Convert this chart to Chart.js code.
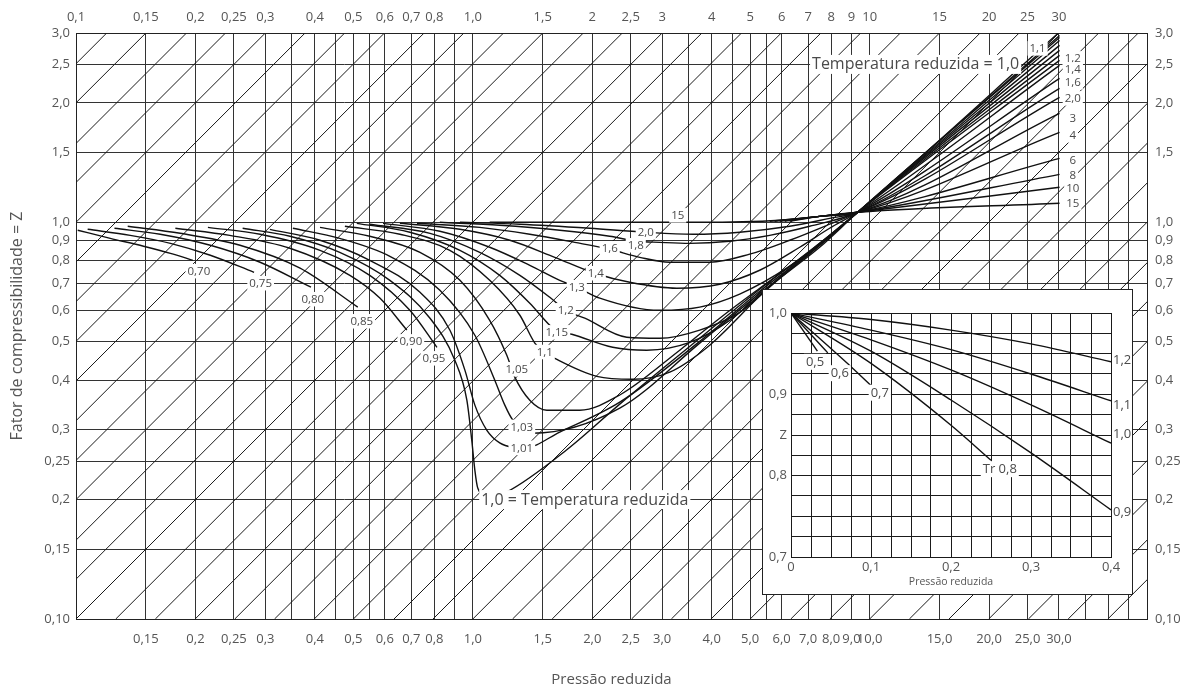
<!DOCTYPE html>
<html>
<head>
<meta charset="utf-8">
<script src="https://cdn.jsdelivr.net/npm/chart.js@4.4.1/dist/chart.umd.min.js"></script>
<style>
  html, body { margin: 0; padding: 0; background: #fff; }
  #wrap { position: relative; width: 1182px; height: 696px; }
  #mainChart { position: absolute; left: 0; top: 0; }
  #insetBox { position: absolute; left: 762px; top: 289px; width: 369px; height: 304px;
              border: 1px solid #222; background: #fff; }
  #insetChart { position: absolute; left: 0; top: 0; }
</style>
</head>
<body>
<div id="wrap">
  <canvas id="mainChart" width="1182" height="696"></canvas>
  <div id="insetBox"><canvas id="insetChart" width="369" height="304"></canvas></div>
</div>
<script>
Chart.defaults.font.family = '"Open Sans", "DejaVu Sans", sans-serif';
Chart.defaults.color = '#555';

// ---- grade principal (log x log) ----
const prGrid = [0.1, 0.15, 0.2, 0.25, 0.3, 0.35, 0.4, 0.45, 0.5, 0.55, 0.6, 0.7, 0.8, 0.9, 1.0,
  1.5, 2, 2.5, 3, 3.5, 4, 4.5, 5, 5.5, 6, 7, 8, 9, 10, 15, 20, 25, 30, 35, 40, 45, 50];
const topTicks = [0.1, 0.15, 0.2, 0.25, 0.3, 0.4, 0.5, 0.6, 0.7, 0.8, 1.0, 1.5, 2, 2.5, 3, 4, 5, 6, 7, 8, 9, 10, 15, 20, 25, 30];
const topTickLabels = ['0,1', '0,15', '0,2', '0,25', '0,3', '0,4', '0,5', '0,6', '0,7', '0,8', '1,0', '1,5', '2', '2,5', '3',
  '4', '5', '6', '7', '8', '9', '10', '15', '20', '25', '30'];
const bottomTicks = [0.15, 0.2, 0.25, 0.3, 0.4, 0.5, 0.6, 0.7, 0.8, 1.0, 1.5, 2, 2.5, 3, 4, 5, 6, 7, 8, 9, 10, 15, 20, 25, 30];
const bottomTickLabels = ['0,15', '0,2', '0,25', '0,3', '0,4', '0,5', '0,6', '0,7', '0,8', '1,0', '1,5', '2,0', '2,5', '3,0',
  '4,0', '5,0', '6,0', '7,0', '8,0', '9,0', '10,0', '15,0', '20,0', '25,0', '30,0'];
const zGrid = [0.1, 0.15, 0.2, 0.25, 0.3, 0.4, 0.5, 0.6, 0.7, 0.8, 0.9, 1.0, 1.5, 2.0, 2.5, 3.0];
const zTickLabels = ['0,10', '0,15', '0,2', '0,25', '0,3', '0,4', '0,5', '0,6', '0,7', '0,8', '0,9', '1,0', '1,5', '2,0', '2,5', '3,0'];

// retas diagonais Z/Pr = constante
const diagRatios = [25.1, 20.0, 15.8, 12.6, 10.0, 7.94, 6.31, 5.01, 3.98, 3.16, 2.51, 2.00, 1.58, 1.26, 1.00,
  0.794, 0.631, 0.501, 0.398, 0.316, 0.251, 0.200, 0.158, 0.126, 0.100, 0.0794, 0.0631, 0.0501, 0.0398,
  0.0316, 0.0251, 0.0200, 0.0158, 0.0126, 0.0100, 0.00794, 0.00631, 0.00501, 0.00398, 0.00316, 0.00251, 0.00200];

// curvas de temperatura reduzida: [Pr, Z]
const tr070 = [[0.101,0.955],[0.122,0.911],[0.148,0.870],[0.173,0.835],[0.197,0.802]];
const tr075 = [[0.107,0.960],[0.137,0.927],[0.173,0.885],[0.218,0.826],[0.281,0.748]];
const tr080 = [[0.125,0.966],[0.163,0.933],[0.218,0.875],[0.291,0.793],[0.391,0.686]];
const tr085 = [[0.135,0.977],[0.183,0.938],[0.259,0.875],[0.367,0.766],[0.513,0.611]];
const tr090 = [[0.178,0.966],[0.244,0.927],[0.346,0.860],[0.490,0.735],[0.583,0.644],[0.682,0.535]];
const tr095 = [[0.215,0.971],[0.291,0.933],[0.412,0.850],[0.550,0.735],[0.694,0.600],[0.812,0.484]];
const tr100 = [[0.263,0.966],[0.346,0.922],[0.462,0.840],[0.618,0.714],[0.780,0.573],[0.901,0.449],[0.966,0.356],
  [0.994,0.282],[1.012,0.237],[1.029,0.214],[1.100,0.202],[1.218,0.209],[1.725,0.267],[2.346,0.348],[3.731,0.510],
  [5.284,0.678],[7.482,0.885],[9.33,1.06],[29.8,2.99]];
const tr101 = [[0.308,0.960],[0.412,0.901],[0.550,0.802],[0.736,0.666],[0.875,0.535],[0.955,0.424],[1.012,0.346],
  [1.085,0.299],[1.169,0.278],[1.262,0.271],[1.352,0.270],[1.656,0.296],[2.346,0.352],[3.731,0.501],[5.284,0.670],
  [7.482,0.875],[9.33,1.06],[30.1,2.958]];
const tr103 = [[0.352,0.966],[0.462,0.911],[0.618,0.821],[0.826,0.674],[1.012,0.519],[1.136,0.400],[1.204,0.346],
  [1.262,0.317],[1.352,0.303],[1.417,0.294],[2.346,0.340],[3.731,0.496],[5.284,0.662],[7.482,0.865],[9.33,1.06],[30.1,2.924]];
const tr105 = [[0.412,0.971],[0.550,0.922],[0.736,0.840],[0.928,0.714],[1.103,0.566],[1.218,0.462],[1.276,0.407],
  [1.392,0.356],[1.536,0.336],[1.860,0.336],[2.346,0.367],[3.322,0.476],[4.190,0.573],[5.284,0.682],[7.482,0.880],
  [9.33,1.06],[30.1,2.873]];
const tr110 = [[0.476,0.977],[0.655,0.933],[0.875,0.850],[1.103,0.714],[1.314,0.583],[1.433,0.496],[1.510,0.471],
  [1.609,0.454],[2.053,0.409],[2.529,0.402],[3.135,0.419],[3.954,0.490],[5.376,0.662],[7.482,0.875],[9.33,1.06],[30.1,2.792]];
const tr115 = [[0.510,0.994],[0.694,0.944],[0.928,0.850],[1.169,0.735],[1.392,0.625],[1.563,0.550],[1.628,0.532],
  [1.776,0.522],[2.252,0.484],[2.744,0.476],[3.521,0.498],[4.441,0.566],[5.376,0.666],[7.482,0.875],[9.33,1.06],[30.1,2.712]];
const tr120 = [[0.550,0.989],[0.780,0.938],[1.041,0.840],[1.314,0.735],[1.563,0.647],[1.715,0.600],[1.915,0.573],
  [2.443,0.513],[2.958,0.510],[3.731,0.535],[4.705,0.593],[6.289,0.766],[7.482,0.880],[9.33,1.06],[30.1,2.634]];
const tr130 = [[0.594,0.994],[0.826,0.949],[1.103,0.865],[1.392,0.779],[1.656,0.714],[1.828,0.686],[2.089,0.644],
  [2.958,0.600],[3.731,0.611],[4.705,0.659],[6.289,0.775],[7.482,0.885],[9.33,1.06],[30.1,2.559]];
const tr140 = [[0.655,0.994],[0.928,0.960],[1.240,0.901],[1.609,0.816],[2.029,0.744],[2.486,0.706],[3.266,0.682],
  [4.190,0.698],[5.284,0.757],[6.664,0.865],[7.928,0.966],[9.33,1.06],[30.1,2.486]];
const tr160 = [[0.723,0.994],[1.041,0.971],[1.392,0.933],[1.807,0.890],[2.213,0.855],[2.634,0.816],[3.135,0.793],
  [3.954,0.793],[4.985,0.831],[6.289,0.901],[7.928,0.989],[9.33,1.06],[30.1,2.305]];
const tr180 = [[0.826,1.0],[1.169,0.983],[1.656,0.955],[2.213,0.922],[2.589,0.896],[2.958,0.890],[3.521,0.885],
  [4.441,0.896],[5.599,0.927],[7.061,0.977],[9.33,1.06],[30.1,2.175]];
const tr200 = [[0.928,1.0],[1.314,0.989],[1.971,0.966],[2.712,0.944],[3.583,0.933],[4.705,0.944],[6.289,0.977],
  [7.928,1.023],[9.33,1.06],[30.1,2.065]];
const tr300 = [[5.60,1.006],[7.48,1.035],[9.33,1.06],[30.1,1.882]];
const tr400 = [[5.76,1.006],[7.48,1.035],[9.33,1.06],[30.1,1.686]];
const tr600 = [[5.93,1.006],[7.48,1.035],[9.33,1.06],[30.1,1.449]];
const tr800 = [[6.11,1.006],[7.48,1.035],[9.33,1.06],[30.1,1.321]];
const tr1000 = [[6.29,1.006],[7.48,1.035],[9.33,1.06],[30.1,1.225]];
const tr1500 = [[1.103,1.0],[2.089,1.0],[3.731,1.0],[5.934,1.012],[7.482,1.035],[9.33,1.06],[30.1,1.117]];

const mainCurves = [tr070, tr075, tr080, tr085, tr090, tr095, tr100, tr101, tr103, tr105, tr110, tr115,
  tr120, tr130, tr140, tr160, tr180, tr200, tr300, tr400, tr600, tr800, tr1000, tr1500];

// rótulos das curvas
const noteText = ['0,70', '0,75', '0,80', '0,85', '0,90', '0,95', '1,01', '1,03', '1,05', '1,1', '1,15', '1,2', '1,3',
  '1,4', '1,6', '1,8', '2,0', '15', '1,0 = Temperatura reduzida', 'Temperatura reduzida = 1,0',
  '1,1', '1,2', '1,4', '1,6', '2,0', '3', '4', '6', '8', '10', '15'];
const notePr = [0.204, 0.292, 0.395, 0.525, 0.698, 0.798, 1.329, 1.329, 1.291, 1.518, 1.628, 1.715, 1.828,
  2.041, 2.213, 2.574, 2.728, 3.284, 1.915, 13.06,
  26.5, 32.5, 32.5, 32.5, 32.5, 32.5, 32.5, 32.5, 32.5, 32.5, 32.5];
const noteZ = [0.753, 0.702, 0.640, 0.563, 0.501, 0.454, 0.270, 0.305, 0.426, 0.471, 0.528, 0.600, 0.686,
  0.744, 0.860, 0.875, 0.944, 1.041, 0.200, 2.50,
  2.744, 2.589, 2.429, 2.253, 2.053, 1.828, 1.656, 1.433, 1.313, 1.218, 1.117];

// ---- detalhe: baixa pressão (linear) ----
const insetPr = [0, 0.025, 0.05, 0.075, 0.1, 0.125, 0.15, 0.175, 0.2, 0.225, 0.25, 0.275, 0.3, 0.325, 0.35, 0.375, 0.4];
const insetPrLabels = ['0', '', '', '', '0,1', '', '', '', '0,2', '', '', '', '0,3', '', '', '', '0,4'];
const insetZ = [0.7, 0.725, 0.75, 0.775, 0.8, 0.825, 0.85, 0.875, 0.9, 0.925, 0.95, 0.975, 1.0];
const insetZLabels = ['0,7', '', '', '', '0,8', '', 'Z', '', '0,9', '', '', '', '1,0'];

const inTr05 = [[0,1],[0.033,0.953]];
const inTr06 = [[0,1],[0.046,0.951]];
const inTr07 = [[0,1],[0.075,0.934],[0.101,0.910]];
const inTr08 = [[0,1],[0.1,0.938],[0.2,0.862],[0.25,0.819]];
const inTr09 = [[0,1],[0.1,0.953],[0.2,0.893],[0.3,0.828],[0.4,0.758]];
const inTr10 = [[0,1],[0.1,0.967],[0.2,0.930],[0.3,0.887],[0.4,0.840]];
const inTr11 = [[0,1],[0.1,0.979],[0.2,0.955],[0.3,0.925],[0.4,0.892]];
const inTr12 = [[0,1],[0.1,0.992],[0.2,0.979],[0.3,0.962],[0.4,0.940]];
const insetCurves = [inTr05, inTr06, inTr07, inTr08, inTr09, inTr10, inTr11, inTr12];

const insetNoteText = ['0,5', '0,6', '0,7', 'Tr 0,8', '1,2', '1,1', '1,0', '0,9'];
const insetNotePr = [0.030, 0.061, 0.111, 0.261, 0.4, 0.4, 0.4, 0.4];
const insetNoteZ = [0.940, 0.926, 0.902, 0.808, 0.942, 0.887, 0.852, 0.755];

// ---------------------------------------------------------------
const prMin = 0.1, prMax = 50, zMin = 0.1, zMax = 3.0;
const lineColor = '#111';
const gridColor = '#333';

function labelFrom(values, labels) {
    return value => {
        const i = values.indexOf(value);
        return i >= 0 ? labels[i] : '';
    };
}

// desenha textos com fundo branco em coordenadas de dados
function notesPlugin(id, texts, xs, ys, sizeOf, alignOf) {
    return {
        id: id,
        afterDatasetsDraw(chart) {
            const ctx = chart.ctx;
            const sx = chart.scales.x, sy = chart.scales.y;
            ctx.save();
            ctx.textBaseline = 'middle';
            ctx.textAlign = 'left';
            texts.forEach((t, i) => {
                const size = sizeOf(t, i);
                const px = sx.getPixelForValue(xs[i]);
                const py = sy.getPixelForValue(ys[i]);
                ctx.font = size + 'px "Open Sans", "DejaVu Sans", sans-serif';
                const w = ctx.measureText(t).width;
                const h = size + 3;
                const align = alignOf(t, i);
                const left = align === 'left' ? px + 2 : px - w / 2;
                if (align !== 'left') {
                    ctx.fillStyle = '#fff';
                    ctx.fillRect(left - 2, py - h / 2, w + 4, h);
                }
                ctx.fillStyle = '#4a4a4a';
                ctx.fillText(t, left, py + 0.5);
            });
            ctx.restore();
        }
    };
}

const mainDatasets = [];
mainCurves.forEach(pts => {
    mainDatasets.push({
        data: pts.map(p => ({x: p[0], y: p[1]})),
        borderColor: lineColor,
        borderWidth: 1.4,
        pointRadius: 0,
        cubicInterpolationMode: 'monotone',
        order: 1
    });
});
diagRatios.forEach(r => {
    const x0 = Math.max(prMin, zMin / r);
    const x1 = Math.min(prMax, zMax / r);
    mainDatasets.push({
        data: [{x: x0, y: x0 * r}, {x: x1, y: x1 * r}],
        borderColor: '#1a1a1a',
        borderWidth: 1,
        pointRadius: 0,
        order: 2
    });
});

const tickFont = {size: 13};
const logAxis = (extra) => Object.assign({
    type: 'logarithmic',
    grid: {color: gridColor, lineWidth: 1, drawTicks: false},
    border: {display: true, color: '#222', width: 1},
}, extra);

new Chart(document.getElementById('mainChart').getContext('2d'), {
    type: 'line',
    data: {datasets: mainDatasets},
    options: {
        responsive: false,
        animation: false,
        events: [],
        layout: {padding: 0},
        plugins: {legend: {display: false}, tooltip: {enabled: false}},
        scales: {
            x: logAxis({
                position: 'bottom', min: prMin, max: prMax,
                afterBuildTicks: s => { s.ticks = prGrid.map(v => ({value: v})); },
                afterFit: s => { s.height = 77; },
                ticks: {autoSkip: false, maxRotation: 0, padding: 12, font: tickFont,
                        callback: labelFrom(bottomTicks, bottomTickLabels)},
                title: {display: true, text: 'Pressão reduzida', font: {size: 15}, padding: {top: 0, bottom: 7}}
            }),
            xTop: logAxis({
                position: 'top', min: prMin, max: prMax,
                grid: {display: false, drawTicks: false},
                afterBuildTicks: s => { s.ticks = prGrid.map(v => ({value: v})); },
                afterFit: s => { s.height = 33; },
                ticks: {autoSkip: false, maxRotation: 0, padding: 8, font: tickFont,
                        callback: labelFrom(topTicks, topTickLabels)}
            }),
            y: logAxis({
                position: 'left', min: zMin, max: zMax,
                afterBuildTicks: s => { s.ticks = zGrid.map(v => ({value: v})); },
                afterFit: s => { s.width = 76; },
                ticks: {autoSkip: false, padding: 6, font: tickFont,
                        callback: labelFrom(zGrid, zTickLabels)},
                title: {display: true, text: 'Fator de compressibilidade = Z', font: {size: 16}, padding: {top: 8, bottom: 0}}
            }),
            yRight: logAxis({
                position: 'right', min: zMin, max: zMax,
                grid: {display: false, drawTicks: false},
                afterBuildTicks: s => { s.ticks = zGrid.map(v => ({value: v})); },
                afterFit: s => { s.width = 35; },
                ticks: {autoSkip: false, padding: 8, font: tickFont,
                        callback: labelFrom(zGrid, zTickLabels)}
            })
        }
    },
    plugins: [notesPlugin('mainNotes', noteText, notePr, noteZ,
        t => t.length > 6 ? 16 : 11.5, () => 'center')]
});

// ---- gráfico de detalhe ----
new Chart(document.getElementById('insetChart').getContext('2d'), {
    type: 'line',
    data: {
        datasets: insetCurves.map(pts => ({
            data: pts.map(p => ({x: p[0], y: p[1]})),
            borderColor: lineColor,
            borderWidth: 1.4,
            pointRadius: 0,
            cubicInterpolationMode: 'monotone'
        }))
    },
    options: {
        responsive: false,
        animation: false,
        events: [],
        layout: {padding: {top: 23, right: 21, left: 0, bottom: 0}},
        plugins: {legend: {display: false}, tooltip: {enabled: false}},
        scales: {
            x: {
                type: 'linear', min: 0, max: 0.4,
                afterBuildTicks: s => { s.ticks = insetPr.map(v => ({value: v})); },
                afterFit: s => { s.height = 37; },
                grid: {color: '#1a1a1a', lineWidth: 1, drawTicks: false},
                border: {display: true, color: '#1a1a1a'},
                ticks: {autoSkip: false, maxRotation: 0, padding: 2, font: tickFont,
                        callback: labelFrom(insetPr, insetPrLabels)},
                title: {display: true, text: 'Pressão reduzida', font: {size: 10.5}, padding: {top: 0, bottom: 6}}
            },
            y: {
                type: 'linear', min: 0.7, max: 1.0,
                afterBuildTicks: s => { s.ticks = insetZ.map(v => ({value: v})); },
                afterFit: s => { s.width = 28; },
                grid: {color: '#1a1a1a', lineWidth: 1, drawTicks: false},
                border: {display: true, color: '#1a1a1a'},
                ticks: {autoSkip: false, padding: 4, font: tickFont,
                        callback: labelFrom(insetZ, insetZLabels)}
            }
        }
    },
    plugins: [notesPlugin('insetNotes', insetNoteText, insetNotePr, insetNoteZ,
        () => 13, (t, i) => insetNotePr[i] >= 0.4 ? 'left' : 'center')]
});
</script>
</body>
</html>
